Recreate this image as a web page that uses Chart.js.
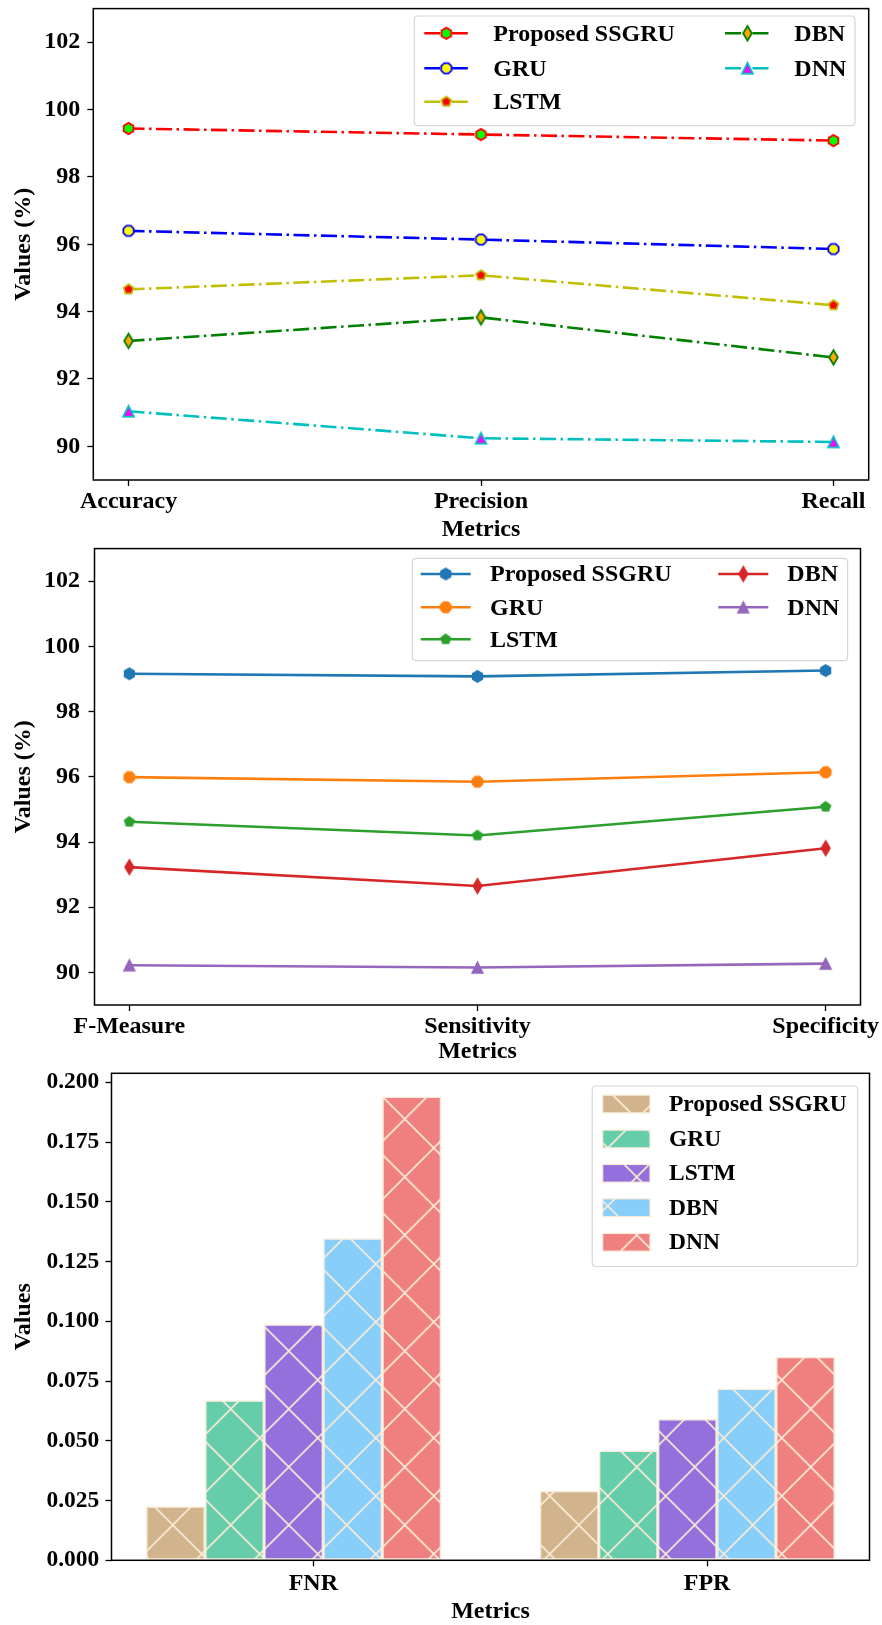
<!DOCTYPE html>
<html><head><meta charset="utf-8">
<script src="https://cdn.jsdelivr.net/npm/chart.js@4.4.1/dist/chart.umd.min.js"></script>
<style>
html,body{margin:0;padding:0;background:#fff;}
body{width:882px;height:1625px;position:relative;overflow:hidden;}
canvas{position:absolute;left:0;display:block;}
</style></head><body>
<canvas id="c1" width="882" height="545" style="top:0px"></canvas>
<canvas id="c2" width="882" height="528" style="top:540px"></canvas>
<canvas id="c3" width="882" height="565" style="top:1060px"></canvas>
<script>
// ---------------- DATA ----------------
const seriesNames = ['Proposed SSGRU', 'GRU', 'LSTM', 'DBN', 'DNN'];

const metricsA = ['Accuracy', 'Precision', 'Recall'];
const ssgruA = [99.44, 99.26, 99.08];
const gruA   = [96.40, 96.14, 95.86];
const lstmA  = [94.66, 95.08, 94.19];
const dbnA   = [93.13, 93.83, 92.64];
const dnnA   = [91.04, 90.24, 90.13];

const metricsB = ['F-Measure', 'Sensitivity', 'Specificity'];
const ssgruB = [99.16, 99.08, 99.26];
const gruB   = [95.99, 95.85, 96.14];
const lstmB  = [94.62, 94.20, 95.08];
const dbnB   = [93.23, 92.65, 93.81];
const dnnB   = [90.22, 90.15, 90.27];

const metricsC = ['FNR', 'FPR'];
const ssgruC = [0.0226, 0.0291];
const gruC   = [0.0670, 0.0460];
const lstmC  = [0.0988, 0.0591];
const dbnC   = [0.1348, 0.0719];
const dnnC   = [0.1941, 0.0852];

const pctTicks  = [90, 92, 94, 96, 98, 100, 102];
const rateTicks = [0, 0.025, 0.05, 0.075, 0.1, 0.125, 0.15, 0.175, 0.2];

// ---------------- STYLE HELPERS ----------------
const FONT = "'Liberation Serif','Times New Roman',Times,serif";
const bf = (size, lh) => ({family: FONT, size: size, weight: 'bold', lineHeight: lh || 1.2});

function marker(shape, r, fill, stroke, lw) {
  const size = Math.ceil(2 * r + lw + 6);
  const c = document.createElement('canvas');
  c.width = c.height = size;
  const g = c.getContext('2d');
  const cx = size / 2, cy = size / 2;
  let pts = [];
  if (shape === 'diamond') {
    const h = r * 1.3, w = r * 0.78;
    pts = [[0, -h], [w, 0], [0, h], [-w, 0]];
  } else if (shape === 'tri') {
    pts = [[0, -r], [r, r], [-r, r]];
  } else {
    const n = {pent: 5, hex: 6, oct: 8}[shape];
    const rot = shape === 'oct' ? Math.PI / 8 : 0;
    for (let i = 0; i < n; i++) {
      const a = -Math.PI / 2 + rot + 2 * Math.PI * i / n;
      pts.push([r * Math.cos(a), r * Math.sin(a)]);
    }
  }
  g.beginPath();
  pts.forEach((p, i) => i ? g.lineTo(cx + p[0], cy + p[1]) : g.moveTo(cx + p[0], cy + p[1]));
  g.closePath();
  g.fillStyle = fill; g.fill();
  g.lineWidth = lw; g.strokeStyle = stroke; g.lineJoin = 'miter'; g.stroke();
  return c;
}

function hatch(color, line, s, lw, ox, oy) {
  const c = document.createElement('canvas');
  c.width = c.height = s;
  const g = c.getContext('2d');
  g.fillStyle = color; g.fillRect(0, 0, s, s);
  g.strokeStyle = line; g.lineWidth = lw;
  g.beginPath();
  for (let k = -1; k <= 1; k++) {
    g.moveTo(-2 + k * s, -2); g.lineTo(s + 2 + k * s, s + 2);
    g.moveTo(s + 2 + k * s, -2); g.lineTo(-2 + k * s, s + 2);
  }
  g.stroke();
  const p = document.createElement('canvas').getContext('2d').createPattern(c, 'repeat');
  p.setTransform(new DOMMatrix().translate(ox, oy));
  return p;
}

function roundRect(ctx, x, y, w, h, r) {
  ctx.beginPath();
  ctx.moveTo(x + r, y); ctx.lineTo(x + w - r, y); ctx.quadraticCurveTo(x + w, y, x + w, y + r);
  ctx.lineTo(x + w, y + h - r); ctx.quadraticCurveTo(x + w, y + h, x + w - r, y + h);
  ctx.lineTo(x + r, y + h); ctx.quadraticCurveTo(x, y + h, x, y + h - r);
  ctx.lineTo(x, y + r); ctx.quadraticCurveTo(x, y, x + r, y); ctx.closePath();
}

const noPad = s => { s.paddingTop = 0; s.paddingBottom = 0; s.paddingLeft = 0; s.paddingRight = 0; };

// frame (spines) + matplotlib-like legend
const decor = {
  id: 'decor',
  afterDatasetsDraw(chart) {
    const {ctx, chartArea: a} = chart;
    ctx.save();
    ctx.strokeStyle = '#000'; ctx.lineWidth = 1.5;
    ctx.strokeRect(a.left, a.top, a.right - a.left, a.bottom - a.top);
    ctx.restore();
  },
  afterDraw(chart, args, o) {
    const L = o.legend;
    if (!L) return;
    const ctx = chart.ctx;
    ctx.save();
    roundRect(ctx, L.x, L.y, L.w, L.h, 4);
    ctx.fillStyle = 'rgba(255,255,255,0.85)'; ctx.fill();
    ctx.strokeStyle = '#d6d6d6'; ctx.lineWidth = 1.2; ctx.stroke();
    chart.data.datasets.forEach((ds, i) => {
      const it = L.items[i];
      if (L.kind === 'line') {
        ctx.save();
        ctx.strokeStyle = ds.borderColor; ctx.lineWidth = ds.borderWidth;
        ctx.setLineDash(ds.borderDash || []);
        ctx.beginPath(); ctx.moveTo(it.x0, it.y); ctx.lineTo(it.x1, it.y); ctx.stroke();
        ctx.restore();
        const img = ds.pointStyle;
        ctx.drawImage(img, (it.x0 + it.x1) / 2 - img.width / 2, it.y - img.height / 2);
      } else {
        ctx.fillStyle = ds.backgroundColor;
        ctx.fillRect(it.x0, it.y - L.ph / 2, it.x1 - it.x0, L.ph);
        ctx.strokeStyle = ds.borderColor; ctx.lineWidth = 1.2;
        ctx.strokeRect(it.x0, it.y - L.ph / 2, it.x1 - it.x0, L.ph);
      }
      ctx.fillStyle = '#000';
      ctx.font = 'bold ' + L.fontSize + 'px ' + FONT;
      ctx.textBaseline = 'middle'; ctx.textAlign = 'left';
      ctx.fillText(ds.label, it.xt, it.y + 1);
    });
    ctx.restore();
  }
};

function lineDatasets(values, colors, markers, lw, dash) {
  return values.map((vals, i) => ({
    label: seriesNames[i],
    data: vals.map((v, j) => ({x: j, y: v})),
    borderColor: colors[i],
    backgroundColor: colors[i],
    borderWidth: lw,
    borderDash: dash,
    pointStyle: markers[i],
    pointRadius: 6,
    tension: 0,
    fill: false
  }));
}

function lineOptions(cats, yw, tickPadY, tickPadX, xh, titlePadB, padding, legend) {
  return {
    responsive: false, animation: false,
    layout: {padding: padding},
    plugins: {legend: {display: false}, tooltip: {enabled: false}, decor: {legend: legend}},
    scales: {
      x: {
        type: 'linear', min: -0.1, max: cats.length - 1 + 0.1, offset: false,
        afterBuildTicks: s => { s.ticks = cats.map((_, i) => ({value: i})); },
        afterFit: s => { s.height = xh; noPad(s); },
        ticks: {callback: v => cats[v], font: bf(24), color: '#000', padding: tickPadX, maxRotation: 0, autoSkip: false},
        grid: {display: true, drawOnChartArea: false, drawTicks: true, tickLength: 6, tickColor: '#000', tickWidth: 1.3, offset: false},
        border: {display: false},
        title: {display: true, text: 'Metrics', font: bf(24), color: '#000', padding: {top: 0, bottom: titlePadB}}
      },
      y: {
        type: 'linear', min: 89, max: 103,
        afterBuildTicks: s => { s.ticks = pctTicks.map(v => ({value: v})); },
        afterFit: s => { s.width = yw; noPad(s); },
        ticks: {callback: v => String(v), font: bf(24), color: '#000', padding: tickPadY},
        grid: {display: true, drawOnChartArea: false, drawTicks: true, tickLength: 6, tickColor: '#000', tickWidth: 1.3},
        border: {display: false},
        title: {display: true, text: 'Values (%)', font: bf(24), color: '#000', padding: {top: 9.2, bottom: 0}}
      }
    }
  };
}

// ---------------- CHART 1 ----------------
const colA = ['#ff0000', '#0000ff', '#bfbf00', '#008000', '#00bfbf'];
const mkA = [
  marker('hex', 5.6, '#00ff00', '#ff0000', 1.8),
  marker('oct', 5.6, '#ffff00', '#0000ff', 1.8),
  marker('pent', 5.2, '#ff0000', '#bfbf00', 1.8),
  marker('diamond', 5.6, '#ffa500', '#008000', 1.8),
  marker('tri', 5.4, '#ff00ff', '#00bfbf', 1.8)
];
new Chart(document.getElementById('c1'), {
  type: 'line',
  data: {datasets: lineDatasets([ssgruA, gruA, lstmA, dbnA, dnnA], colA, mkA, 2.6, [16, 4.5, 2.5, 4.5])},
  options: lineOptions(metricsA, 93.3, 7, 1.3, 65, 1.2, {left: 0, top: 4.3, right: 13.3, bottom: 0}, {
    kind: 'line', x: 414.3, y: 16, w: 440.7, h: 109.7, fontSize: 24,
    items: [
      {x0: 424.3, x1: 468.3, xt: 493.3, y: 33.3},
      {x0: 424.3, x1: 468.3, xt: 493.3, y: 68.3},
      {x0: 424.3, x1: 468.3, xt: 493.3, y: 101.7},
      {x0: 725, x1: 770, xt: 794.3, y: 33.3},
      {x0: 725, x1: 770, xt: 794.3, y: 68.3}
    ]
  }),
  plugins: [decor]
});

// ---------------- CHART 2 ----------------
const colB = ['#1f77b4', '#ff7f0e', '#2ca02c', '#d62728', '#9467bd'];
const mkB = [
  marker('hex', 5.6, colB[0], colB[0], 1.5),
  marker('oct', 5.6, colB[1], colB[1], 1.5),
  marker('pent', 5.0, colB[2], colB[2], 1.5),
  marker('diamond', 5.6, colB[3], colB[3], 1.5),
  marker('tri', 5.4, colB[4], colB[4], 1.5)
];
new Chart(document.getElementById('c2'), {
  type: 'line',
  data: {datasets: lineDatasets([ssgruB, gruB, lstmB, dbnB, dnnB], colB, mkB, 2.6, [])},
  options: lineOptions(metricsB, 94.5, 8.5, 1, 63, 2, {left: 0, top: 5.7, right: 21.5, bottom: 0}, {
    kind: 'line', x: 412.3, y: 18.3, w: 435.3, h: 102.4, fontSize: 24,
    items: [
      {x0: 420.7, x1: 470.7, xt: 490, y: 34},
      {x0: 420.7, x1: 470.7, xt: 490, y: 67.3},
      {x0: 420.7, x1: 470.7, xt: 490, y: 99.3},
      {x0: 718.3, x1: 768.3, xt: 787.3, y: 34},
      {x0: 718.3, x1: 768.3, xt: 787.3, y: 67.3}
    ]
  }),
  plugins: [decor]
});

// ---------------- CHART 3 ----------------
const colC = ['#d2b48c', '#66cdaa', '#9370db', '#87cefa', '#f08080'];
const edgeC = '#faebd7';
const tickShift = 0.05;
const barVals = [ssgruC, gruC, lstmC, dbnC, dnnC];
new Chart(document.getElementById('c3'), {
  type: 'bar',
  data: {
    datasets: barVals.map((vals, i) => ({
      label: seriesNames[i],
      data: vals.map((v, j) => ({x: j, y: v})),
      backgroundColor: hatch(colC[i], edgeC, 58, 1.6, 172.7, 465),
      borderColor: edgeC,
      borderWidth: 1.5,
      borderSkipped: false,
      categoryPercentage: 0.75,
      barPercentage: 1.0
    }))
  },
  options: {
    responsive: false, animation: false,
    layout: {padding: {left: 0, top: 13.3, right: 12.5, bottom: 0}},
    plugins: {
      legend: {display: false}, tooltip: {enabled: false},
      decor: {legend: {
        kind: 'bar', x: 592.2, y: 26, w: 265.5, h: 180.5, fontSize: 23.5, ph: 17.7,
        items: [
          {x0: 602.7, x1: 650, xt: 669, y: 44},
          {x0: 602.7, x1: 650, xt: 669, y: 79},
          {x0: 602.7, x1: 650, xt: 669, y: 113.3},
          {x0: 602.7, x1: 650, xt: 669, y: 147.7},
          {x0: 602.7, x1: 650, xt: 669, y: 182.3}
        ]
      }}
    },
    scales: {
      x: {
        type: 'linear', min: -0.4625, max: 1.4625, offset: false,
        afterBuildTicks: s => { s.ticks = metricsC.map((_, i) => ({value: i + tickShift})); },
        afterFit: s => { s.height = 64.7; noPad(s); },
        ticks: {callback: v => metricsC[Math.round(v - tickShift)], font: bf(24), color: '#000', padding: 2.8, maxRotation: 0, autoSkip: false},
        grid: {display: true, drawOnChartArea: false, drawTicks: true, tickLength: 6, tickColor: '#000', tickWidth: 1.3, offset: false},
        border: {display: false},
        title: {display: true, text: 'Metrics', font: bf(24, 1.1), color: '#000', padding: {top: 0, bottom: 0}}
      },
      y: {
        type: 'linear', min: 0, max: 0.2038,
        afterBuildTicks: s => { s.ticks = rateTicks.map(v => ({value: v})); },
        afterFit: s => { s.width = 111.5; noPad(s); },
        ticks: {callback: v => Number(v).toFixed(3), font: bf(23.5), color: '#000', padding: 6.2},
        grid: {display: true, drawOnChartArea: false, drawTicks: true, tickLength: 6, tickColor: '#000', tickWidth: 1.3},
        border: {display: false},
        title: {display: true, text: 'Values', font: bf(24), color: '#000', padding: {top: 9.2, bottom: 0}}
      }
    }
  },
  plugins: [decor]
});
</script>
</body></html>
